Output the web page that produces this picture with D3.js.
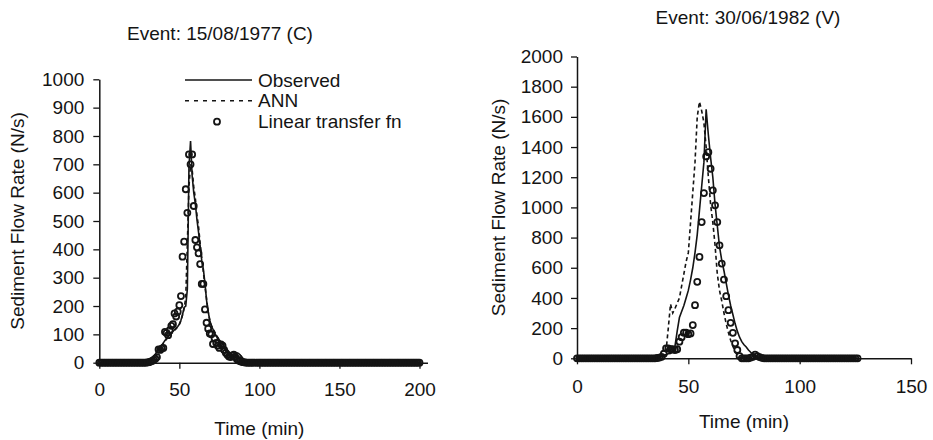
<!DOCTYPE html>
<html>
<head>
<meta charset="utf-8">
<script src="https://cdnjs.cloudflare.com/ajax/libs/d3/7.8.5/d3.min.js"></script>
<style>
  body { margin: 0; background: #fff; }
  svg { display: block; }
  text { font-family: "Liberation Sans", Arial, sans-serif; fill: #141414; }
</style>
</head>
<body>
<svg width="933" height="440"></svg>
<script>
// time in minutes, one reading per minute
let timeL = d3.range(0, 201);
let timeR = d3.range(0, 127);

// Event 15/08/1977 (C), t = 0..200
let observedL = [
  0,0,0,0,0,0,0,0,0,0, 0,0,0,0,0,0,0,0,0,0,
  2,5,8,8,6,8,7,4,2,1, 2,4,8,14,22,30,40,48,56,62,
  70,78,85,92,98,104,110,116,122,128, 136,150,170,195,200,260,690,782,660,600,
  560,505,460,410,360,330,280,220,180,150, 130,118,105,95,88,80,74,68,58,46,
  36,28,22,22,26,31,35,33,27,20, 14,9,6,4,3,2,2,1,1,0,
  0,0,0,0,0,0,0,0,0,0, 0,0,0,0,0,0,0,0,0,0, 0,0,0,0,0,0,0,0,0,0, 0,0,0,0,0,0,0,0,0,0,
  0,0,0,0,0,0,0,0,0,0, 0,0,0,0,0,0,0,0,0,0, 0,0,0,0,0,0,0,0,0,0, 0,0,0,0,0,0,0,0,0,0,
  0,0,0,0,0,0,0,0,0,0, 0,0,0,0,0,0,0,0,0,0, 0
];
let annL = [
  0,0,0,0,0,0,0,0,0,0, 0,0,0,0,0,0,0,0,0,0,
  1,3,5,6,6,6,5,3,2,1, 2,4,8,13,20,28,37,45,53,60,
  68,76,83,90,96,102,108,114,120,127, 135,148,168,192,230,420,620,700,680,620,
  580,520,480,420,370,320,270,225,180,150, 132,120,110,98,88,78,70,62,52,42,
  34,28,24,24,26,30,33,32,27,20, 14,9,6,4,3,2,2,1,1,0,
  0,0,0,0,0,0,0,0,0,0, 0,0,0,0,0,0,0,0,0,0, 0,0,0,0,0,0,0,0,0,0, 0,0,0,0,0,0,0,0,0,0,
  0,0,0,0,0,0,0,0,0,0, 0,0,0,0,0,0,0,0,0,0, 0,0,0,0,0,0,0,0,0,0, 0,0,0,0,0,0,0,0,0,0,
  0,0,0,0,0,0,0,0,0,0, 0,0,0,0,0,0,0,0,0,0, 0
];
let linearL = [
  0,0,0,0,0,0,0,0,0,0, 0,0,0,0,0,0,0,0,0,0,
  0,0,0,0,0,0,0,0,0,0, 1,2,4,6,10,14,20,47,45,50,
  52,109,105,97,115,130,136,174,163,180, 203,235,374,427,612,529,735,700,735,553,
  433,407,386,348,278,278,188,141,120,103, 100,66,86,70,60,52,65,60,45,35,
  28,22,20,25,28,20,12,8,5,3, 2,1,0,0,0,0,0,0,0,0,
  0,0,0,0,0,0,0,0,0,0, 0,0,0,0,0,0,0,0,0,0, 0,0,0,0,0,0,0,0,0,0, 0,0,0,0,0,0,0,0,0,0,
  0,0,0,0,0,0,0,0,0,0, 0,0,0,0,0,0,0,0,0,0, 0,0,0,0,0,0,0,0,0,0, 0,0,0,0,0,0,0,0,0,0,
  0,0,0,0,0,0,0,0,0,0, 0,0,0,0,0,0,0,0,0,0, 0
];

// Event 30/06/1982 (V), t = 0..126
let observedR = [
  0,0,0,0,0,0,0,0,0,0, 0,0,0,0,0,0,0,0,0,0, 0,0,0,0,0,0,0,0,0,0,
  0,0,0,0,0,0,3,8,15,20, 25,30,32,40,80,180,270,310,350,400,
  450,520,600,700,820,980,1140,1300,1650,1480, 1330,1200,1020,880,740,650,580,500,420,350,
  290,230,180,140,110,90,75,55,40,25, 15,8,4,2,0,0,0,0,0,0,
  0,0,0,0,0,0,0,0,0,0, 0,0,0,0,0,0,0,0,0,0, 0,0,0,0,0,0,0,0,0,0,
  0,0,0,0,0,0,0
];
let annR = [
  0,0,0,0,0,0,0,0,0,0, 0,0,0,0,0,0,0,0,0,0, 0,0,0,0,0,0,0,0,0,0,
  0,0,0,0,0,0,0,5,10,20, 50,200,360,300,330,365,400,480,560,640,
  700,900,1100,1300,1600,1700,1640,1560,1400,1200, 1020,900,750,560,450,380,300,230,170,120,
  80,45,20,8,3,0,0,0,0,0, 0,0,0,0,0,0,0,0,0,0,
  0,0,0,0,0,0,0,0,0,0, 0,0,0,0,0,0,0,0,0,0, 0,0,0,0,0,0,0,0,0,0,
  0,0,0,0,0,0,0
];
let linearR = [
  0,0,0,0,0,0,0,0,0,0, 0,0,0,0,0,0,0,0,0,0, 0,0,0,0,0,0,0,0,0,0,
  0,0,0,0,0,0,2,5,10,30, 66,66,60,60,55,60,110,140,170,170,
  160,165,220,352,507,672,903,1095,1338,1366, 1256,1113,1014,903,749,628,522,412,319,235,
  169,99,55,15,0,0,0,0,5,10, 25,15,8,3,0,0,0,0,0,0,
  0,0,0,0,0,0,0,0,0,0, 0,0,0,0,0,0,0,0,0,0, 0,0,0,0,0,0,0,0,0,0,
  0,0,0,0,0,0,0
];

let xTicksL = [0, 50, 100, 150, 200];
let yTicksL = [0, 100, 200, 300, 400, 500, 600, 700, 800, 900, 1000];
let xTicksR = [0, 50, 100, 150];
let yTicksR = [0, 200, 400, 600, 800, 1000, 1200, 1400, 1600, 1800, 2000];

let seriesNames = ['Observed', 'ANN', 'Linear transfer fn'];

let svg = d3.select('svg');
let ink = '#141414';
let markR = 3, markW = 1.8;

function drawPanel(p) {
  let x = d3.scaleLinear().domain(p.xDomain).range(p.xRange);
  let y = d3.scaleLinear().domain(p.yDomain).range(p.yRange);
  let g = svg.append('g');

  let yAxis = g.append('g')
      .attr('transform', 'translate(' + p.xRange[0] + ',0)')
      .call(d3.axisLeft(y).tickValues(p.yTicks).tickFormat(d3.format('d'))
        .tickSize(6).tickSizeOuter(0).tickPadding(p.yPad));
  let xAxis = g.append('g')
      .attr('transform', 'translate(0,' + p.yRange[0] + ')')
      .call(d3.axisBottom(x).tickValues(p.xTicks).tickFormat(d3.format('d'))
        .tickSize(6).tickSizeOuter(0).tickPadding(p.xPad));
  [xAxis, yAxis].forEach(a => {
    a.select('.domain').attr('stroke', ink).attr('stroke-width', 1.5);
    a.selectAll('.tick line').attr('stroke', ink).attr('stroke-width', 1.3);
    a.selectAll('.tick text').attr('font-size', 19).attr('fill', ink)
      .style('font-family', '"Liberation Sans", Arial, sans-serif');
  });

  let pts = (vals) => p.time.map((t, i) => [t, vals[i]]);
  let line = d3.line().x(d => x(d[0])).y(d => y(d[1]));

  g.append('path').datum(pts(p.observed))
      .attr('d', line).attr('fill', 'none')
      .attr('stroke', ink).attr('stroke-width', 1.6);
  g.append('path').datum(pts(p.ann))
      .attr('d', line).attr('fill', 'none')
      .attr('stroke', ink).attr('stroke-width', 1.6)
      .attr('stroke-dasharray', '4,3');
  g.append('g').selectAll('circle')
      .data(pts(p.linear))
      .enter()
      .append('circle')
      .attr('cx', d => x(d[0]))
      .attr('cy', d => y(d[1]))
      .attr('r', markR)
      .attr('fill', 'none')
      .attr('stroke', ink)
      .attr('stroke-width', markW);

  g.append('text')
      .attr('x', p.title[0]).attr('y', p.title[1])
      .attr('text-anchor', 'middle').attr('font-size', 19)
      .text(p.titleText);
  g.append('text')
      .attr('x', (p.xRange[0] + x(p.xTicks[p.xTicks.length - 1])) / 2)
      .attr('y', p.xLabelY)
      .attr('text-anchor', 'middle').attr('font-size', 19)
      .text('Time (min)');
  g.append('text')
      .attr('transform', 'translate(' + p.yLabelX + ',' + ((p.yRange[0] + p.yRange[1]) / 2) + ') rotate(-90)')
      .attr('text-anchor', 'middle').attr('font-size', 19)
      .text('Sediment Flow Rate (N/s)');
}

drawPanel({
  time: timeL, observed: observedL, ann: annL, linear: linearL,
  xDomain: [0, 205], xRange: [99.3, 427.5],
  yDomain: [0, 1000], yRange: [362.7, 79.3],
  xTicks: xTicksL, yTicks: yTicksL, xPad: 14, yPad: 9,
  title: [220, 39.5], titleText: 'Event: 15/08/1977 (C)',
  xLabelY: 435, yLabelX: 23.5
});

drawPanel({
  time: timeR, observed: observedR, ann: annR, linear: linearR,
  xDomain: [0, 150], xRange: [577, 911],
  yDomain: [0, 2000], yRange: [358.3, 56.5],
  xTicks: xTicksR, yTicks: yTicksR, xPad: 15, yPad: 8,
  title: [748, 24], titleText: 'Event: 30/06/1982 (V)',
  xLabelY: 427.5, yLabelX: 505
});

// legend (left panel)
let legend = svg.append('g');
let rows = [80, 100.7, 121.7];
legend.append('line').attr('x1', 185).attr('x2', 252).attr('y1', rows[0]).attr('y2', rows[0])
    .attr('stroke', ink).attr('stroke-width', 1.6);
legend.append('line').attr('x1', 185).attr('x2', 252).attr('y1', rows[1]).attr('y2', rows[1])
    .attr('stroke', ink).attr('stroke-width', 1.6).attr('stroke-dasharray', '4,5');
legend.append('circle').attr('cx', 217).attr('cy', rows[2]).attr('r', markR)
    .attr('fill', 'none').attr('stroke', ink).attr('stroke-width', markW);
legend.selectAll('text.lg')
    .data(seriesNames)
    .enter()
    .append('text')
    .attr('class', 'lg')
    .attr('x', 258)
    .attr('y', (d, i) => rows[i] + 6.5)
    .attr('font-size', 19)
    .text(d => d);
</script>
</body>
</html>
